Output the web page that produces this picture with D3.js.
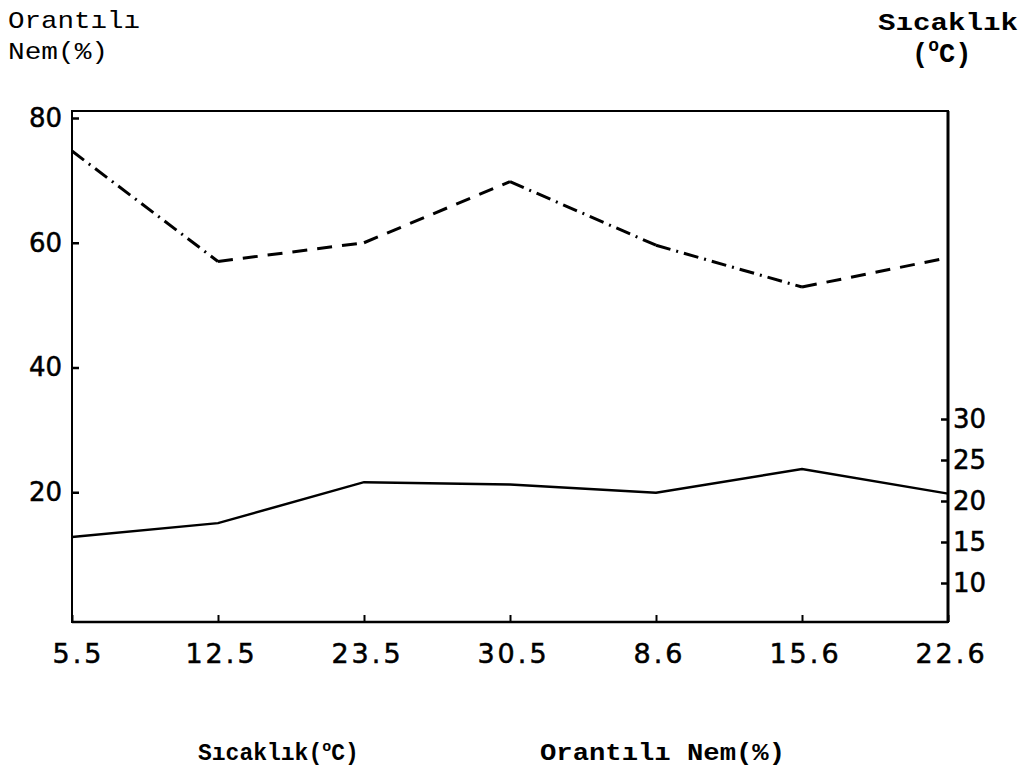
<!DOCTYPE html>
<html>
<head>
<meta charset="utf-8">
<script src="https://cdn.jsdelivr.net/npm/d3@7"></script>
<style>
  body { margin: 0; background: #fff; }
  .tick text { font-family: "DejaVu Sans", sans-serif; fill: #000; stroke: #000; stroke-width: 0.5; }
  .mono { font-family: "Liberation Mono", monospace; fill: #000; }
</style>
</head>
<body>
<svg width="1026" height="772"></svg>
<script>
const svg = d3.select("svg");

// x kategori etiketleri
const xLabels = ["5.5", "12.5", "23.5", "30.5", "8.6", "15.6", "22.6"];
// Orantılı nem (%) - kesikli çizgi, sol eksen
const humidity = [74.7, 57.0, 60.0, 69.8, 59.6, 52.9, 57.6];
// Sıcaklık (°C) - düz çizgi, sağ eksen
const temperature = [15.6, 17.3, 22.3, 22.0, 21.0, 23.9, 20.9];
const leftTicks = [20, 40, 60, 80];
const rightTicks = [10, 15, 20, 25, 30];
// segment stilleri (el çizimi gibi: kesik-nokta / kesik)
const segStyle = ["dashdot", "dash", "dash", "dashdot", "dashdot", "dash"];

const pL = 72, pR = 948, pT = 111, pB = 622;

const x = d3.scalePoint().domain(xLabels).range([pL, pR]);
const yL = d3.scaleLinear().domain([0, 80]).range([617, 118]);
const yR = d3.scaleLinear().domain([10, 30]).range([583, 419]);

// çerçeve
svg.append("rect")
    .attr("x", pL).attr("y", pT)
    .attr("width", pR - pL).attr("height", pB - pT)
    .attr("fill", "none")
    .attr("stroke", "#000")
    .attr("stroke-width", 2);

// sol eksen
const gL = svg.append("g")
    .attr("transform", `translate(${pL},0)`)
    .call(d3.axisLeft(yL).tickValues(leftTicks).tickSizeInner(-7).tickSizeOuter(0).tickPadding(10));
gL.select(".domain").remove();
gL.selectAll(".tick line").attr("stroke", "#000").attr("stroke-width", 2.5);
gL.selectAll(".tick text").attr("font-size", 26);

// sağ eksen
const gR = svg.append("g")
    .attr("transform", `translate(${pR},0)`)
    .call(d3.axisRight(yR).tickValues(rightTicks).tickSizeInner(-7).tickSizeOuter(0).tickPadding(5));
gR.select(".domain").remove();
gR.selectAll(".tick line").attr("stroke", "#000").attr("stroke-width", 2.5);
gR.selectAll(".tick text").attr("font-size", 26);
svg.append("line")
    .attr("x1", pR).attr("x2", pR)
    .attr("y1", pT).attr("y2", pB)
    .attr("stroke", "#000").attr("stroke-width", 3);

// alt eksen
const gX = svg.append("g")
    .attr("transform", `translate(0,${pB})`)
    .call(d3.axisBottom(x).tickSizeInner(-7).tickSizeOuter(0).tickPadding(22));
gX.select(".domain").remove();
gX.selectAll(".tick line").attr("stroke", "#000").attr("stroke-width", 2);
gX.selectAll(".tick text").attr("font-size", 27).attr("letter-spacing", 3)
    .attr("dx", (d, i) => i === 0 ? 6 : 3);
svg.append("line")
    .attr("x1", pL).attr("x2", pR)
    .attr("y1", pB).attr("y2", pB)
    .attr("stroke", "#000").attr("stroke-width", 2.5);

// sıcaklık çizgisi
const lineT = d3.line()
    .x((d, i) => x(xLabels[i]))
    .y(d => yR(d));
svg.append("path")
    .datum(temperature)
    .attr("d", lineT)
    .attr("fill", "none")
    .attr("stroke", "#000")
    .attr("stroke-width", 2.5);

// nem çizgisi, parça parça
const humPts = humidity.map((v, i) => [x(xLabels[i]), yL(v)]);
svg.append("g")
    .selectAll("path")
    .data(d3.pairs(humPts))
    .enter()
    .append("path")
    .attr("d", d => d3.line()(d))
    .attr("fill", "none")
    .attr("stroke", "#000")
    .attr("stroke-width", 3)
    .attr("stroke-dasharray", (d, i) => segStyle[i] === "dashdot" ? "15,6,2,6" : "15,10");

// başlıklar
svg.append("text").attr("class", "mono")
    .attr("x", 8).attr("y", 28).attr("font-size", 24)
    .attr("textLength", 132).attr("lengthAdjust", "spacingAndGlyphs")
    .text("Orantılı");
svg.append("text").attr("class", "mono")
    .attr("x", 8).attr("y", 59).attr("font-size", 24)
    .attr("textLength", 100).attr("lengthAdjust", "spacingAndGlyphs")
    .text("Nem(%)");

svg.append("text").attr("class", "mono")
    .attr("x", 878).attr("y", 30).attr("font-size", 24).attr("font-weight", "bold")
    .attr("textLength", 140).attr("lengthAdjust", "spacingAndGlyphs")
    .text("Sıcaklık");
const degT = svg.append("text").attr("class", "mono")
    .attr("x", 912).attr("y", 62).attr("font-size", 27).attr("font-weight", "bold");
degT.append("tspan").text("(");
degT.append("tspan").attr("font-size", 18).attr("dy", -11).text("o");
degT.append("tspan").attr("dy", 11).text("C)");

// alt açıklamalar
const leg1 = svg.append("text").attr("class", "mono")
    .attr("x", 198).attr("y", 760).attr("font-size", 23).attr("font-weight", "bold");
leg1.append("tspan").text("Sıcaklık(");
leg1.append("tspan").attr("font-size", 15).attr("dy", -9).text("o");
leg1.append("tspan").attr("dy", 9).text("C)");
svg.append("text").attr("class", "mono")
    .attr("x", 540).attr("y", 760).attr("font-size", 24).attr("font-weight", "bold")
    .attr("textLength", 245).attr("lengthAdjust", "spacingAndGlyphs")
    .text("Orantılı Nem(%)");
</script>
</body>
</html>
